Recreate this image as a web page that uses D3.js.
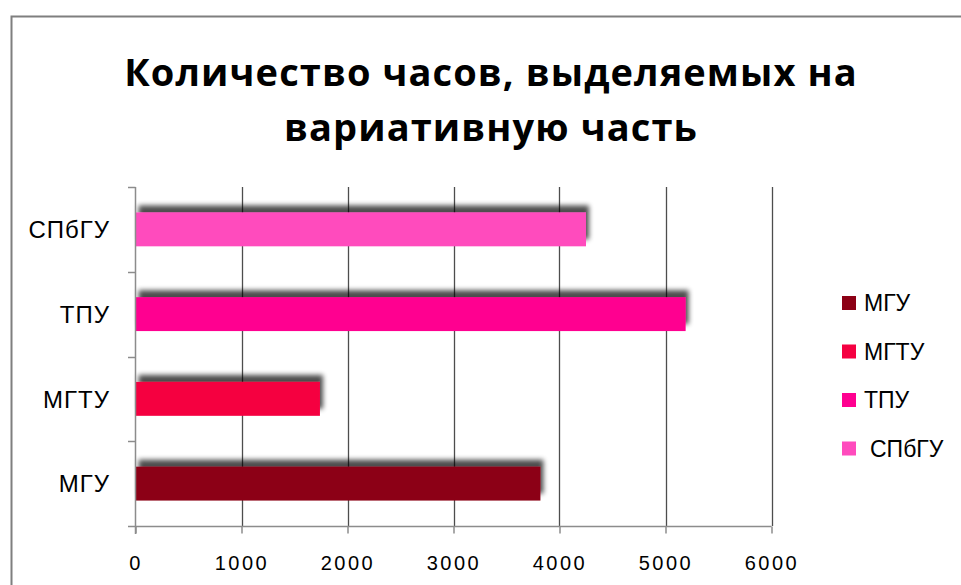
<!DOCTYPE html>
<html>
<head>
<meta charset="utf-8">
<script src="https://cdn.jsdelivr.net/npm/d3@7"></script>
<style>
  body { margin:0; background:#fff; }
  svg { display:block; }
</style>
</head>
<body>
<svg id="chart" width="961" height="585"></svg>
<script>
// data
var categories = ['МГУ', 'МГТУ', 'ТПУ', 'СПбГУ']
var hours      = [3820, 1740, 5190, 4250]
var colors     = ['#8c0015', '#f50041', '#ff0090', '#ff4bbd']
var xTicks     = [0, 1000, 2000, 3000, 4000, 5000, 6000]
var titleLines = ['Количество часов, выделяемых на', 'вариативную часть']

var svg = d3.select('#chart')

// chart frame (only top and left edges are inside the window)
svg.append('rect')
    .attr('x', 11.5).attr('y', 16.5)
    .attr('width', 1200).attr('height', 1200)
    .attr('fill', '#fff')
    .attr('stroke', '#7f7f7f')
    .attr('stroke-width', 2)

var defs = svg.append('defs')
var shadow = defs.append('filter')
        .attr('id', 'shadow')
        .attr('x', '-5%').attr('y', '-60%')
        .attr('width', '115%').attr('height', '200%')
    shadow.append('feGaussianBlur').attr('in', 'SourceAlpha').attr('stdDeviation', 2.5).attr('result', 'b')
    shadow.append('feOffset').attr('in', 'b').attr('dx', 3).attr('dy', -7).attr('result', 'o')
    shadow.append('feComponentTransfer').attr('in', 'o').attr('result', 's')
        .append('feFuncA').attr('type', 'linear').attr('slope', 0.7)
var merge = shadow.append('feMerge')
    merge.append('feMergeNode').attr('in', 's')
    merge.append('feMergeNode').attr('in', 'SourceGraphic')

// title
svg.append('g')
    .selectAll('text')
    .data(titleLines)
    .join('text')
        .attr('x', 491)
        .attr('y', (d, i)=> 86 + i * 55)
        .attr('text-anchor', 'middle')
        .style('font-family', '"Open Sans", sans-serif')
        .style('font-weight', 'bold')
        .style('font-size', '38px')
        .style('letter-spacing', '1.1px')
        .style('fill', '#000')
        .text(d=> d)

var x = d3.scaleLinear()
    .domain([0, 6000])
    .range([135.5, 771.5])

var y = d3.scaleBand()
    .domain(categories.slice().reverse())
    .range([187, 526])
    .paddingInner(0.6)
    .paddingOuter(0.3)

// vertical grid lines
svg.append('g')
    .selectAll('line')
    .data(xTicks.slice(1))
    .join('line')
        .attr('x1', d=> Math.round(x(d)) + 0.5)
        .attr('x2', d=> Math.round(x(d)) + 0.5)
        .attr('y1', 187).attr('y2', 526)
        .attr('stroke', '#4d4d4d')
        .attr('stroke-width', 1.3)

// bars
var bars = categories.map((c, i)=> ({ name:c, value:hours[i], color:colors[i] }))
svg.append('g')
    .selectAll('rect')
    .data(bars)
    .join('rect')
        .attr('x', x(0))
        .attr('y', d=> y(d.name))
        .attr('width', d=> x(d.value) - x(0))
        .attr('height', y.bandwidth())
        .attr('fill', d=> d.color)
        .attr('filter', 'url(#shadow)')

// x axis
var xAxis = svg.append('g')
    .attr('transform', 'translate(0,526.5)')
    .call(d3.axisBottom(x).tickValues(xTicks).tickSize(7).tickPadding(22).tickFormat(d3.format('d')))
    xAxis.select('.domain').attr('stroke', '#8c8c8c').attr('stroke-width', 1.5)
        .attr('d', 'M128,0H' + x(6000))
    xAxis.selectAll('.tick line').attr('stroke', '#8c8c8c').attr('stroke-width', 1.5)
    xAxis.selectAll('.tick text')
        .style('font-family', '"Liberation Sans", sans-serif')
        .style('font-size', '20px')
        .style('letter-spacing', '2.5px')
        .attr('fill', '#000')

// y axis with ticks on band boundaries
var yAxis = svg.append('g')
    yAxis.append('line')
        .attr('x1', 135.5).attr('x2', 135.5)
        .attr('y1', 187).attr('y2', 534)
        .attr('stroke', '#8c8c8c').attr('stroke-width', 1.5)
    yAxis.selectAll('line.tk')
        .data(y.domain())
        .join('line')
        .attr('class', 'tk')
        .attr('x1', 128).attr('x2', 135.5)
        .attr('y1', d=> Math.round(y(d) - y.step() * 0.3) + 0.5)
        .attr('y2', d=> Math.round(y(d) - y.step() * 0.3) + 0.5)
        .attr('stroke', '#8c8c8c').attr('stroke-width', 1.5)
    yAxis.selectAll('text')
        .data(y.domain())
        .join('text')
        .attr('x', 110)
        .attr('y', d=> y(d) + y.bandwidth() / 2)
        .attr('dy', '0.36em')
        .attr('text-anchor', 'end')
        .style('font-family', '"Liberation Sans", sans-serif')
        .style('font-size', '24px')
        .style('letter-spacing', '1px')
        .text(d=> d)

// legend
var legend = svg.append('g')
    .selectAll('g')
    .data(bars)
    .join('g')
        .attr('transform', (d, i)=> 'translate(842,' + (303 + i * 48.5) + ')')
    legend.append('rect')
        .attr('x', 0).attr('y', -7)
        .attr('width', 14).attr('height', 14)
        .attr('fill', d=> d.color)
    legend.append('text')
        .attr('x', (d, i)=> i == 3 ? 28 : 22)
        .attr('dy', '0.36em')
        .style('font-family', '"Liberation Sans", sans-serif')
        .style('font-size', '23px')
        .text(d=> d.name)
</script>
</body>
</html>
